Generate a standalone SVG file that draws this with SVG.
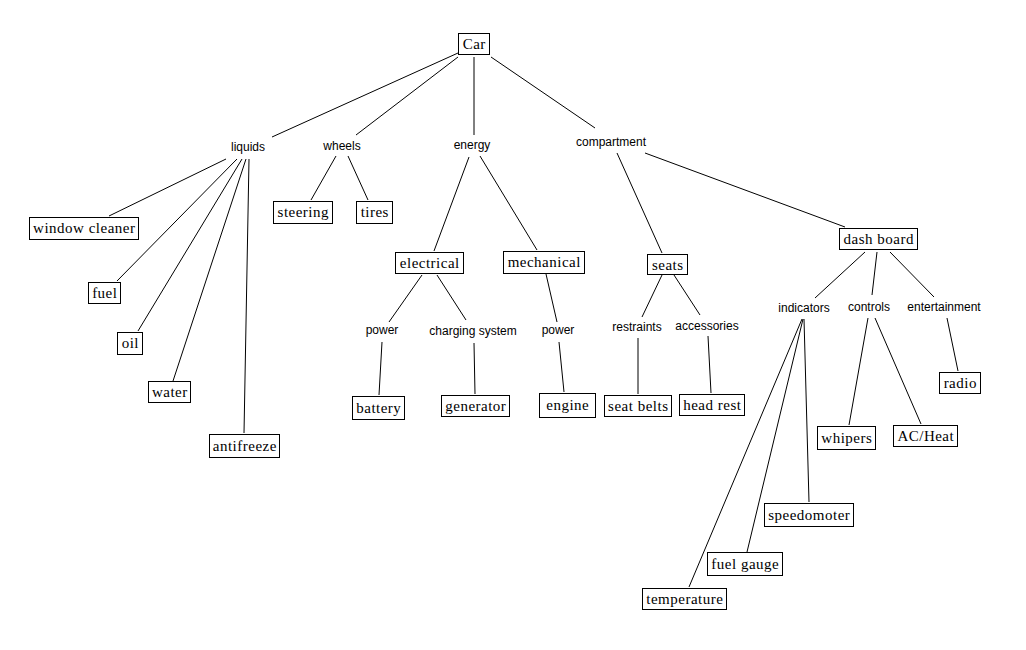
<svg xmlns="http://www.w3.org/2000/svg" width="1026" height="650" viewBox="0 0 1026 650">
<style>
.box{fill:#fff;stroke:#000;stroke-width:1}
.bt{font-family:"Liberation Serif","Times New Roman",serif;font-size:15px;fill:#000;text-anchor:middle;letter-spacing:0.5px}
.lt{font-family:"Liberation Sans",Arial,sans-serif;font-size:12px;fill:#000;text-anchor:middle}
.edges line{stroke:#000;stroke-width:1}
</style>
<rect width="1026" height="650" fill="#fff"/>
<g class="edges" id="connectors">
<line x1="458" y1="53" x2="272" y2="137"/>
<line x1="458" y1="57" x2="356" y2="135"/>
<line x1="474" y1="57" x2="474" y2="135"/>
<line x1="491" y1="57" x2="595" y2="128"/>
<line x1="226" y1="159" x2="109" y2="216"/>
<line x1="237" y1="159" x2="117" y2="281"/>
<line x1="242" y1="159" x2="138" y2="331"/>
<line x1="246" y1="159" x2="173" y2="381"/>
<line x1="249" y1="159" x2="244" y2="433"/>
<line x1="336" y1="156" x2="311" y2="200"/>
<line x1="348" y1="156" x2="368" y2="200"/>
<line x1="469" y1="157" x2="434" y2="251"/>
<line x1="480" y1="156" x2="537" y2="250"/>
<line x1="422" y1="275" x2="389" y2="322"/>
<line x1="437" y1="275" x2="466" y2="320"/>
<line x1="546" y1="274" x2="557" y2="322"/>
<line x1="382" y1="342" x2="379" y2="395"/>
<line x1="474" y1="343" x2="475" y2="394"/>
<line x1="559" y1="342" x2="564" y2="392"/>
<line x1="617" y1="153" x2="662" y2="253"/>
<line x1="645" y1="153" x2="845" y2="227"/>
<line x1="662" y1="275" x2="642" y2="317"/>
<line x1="674" y1="275" x2="700" y2="315"/>
<line x1="638" y1="338" x2="638" y2="394"/>
<line x1="708" y1="336" x2="711" y2="393"/>
<line x1="865" y1="252" x2="815" y2="298"/>
<line x1="877" y1="252" x2="872" y2="295"/>
<line x1="890" y1="252" x2="934" y2="297"/>
<line x1="802" y1="319" x2="689" y2="587"/>
<line x1="803" y1="319" x2="747" y2="552"/>
<line x1="804" y1="319" x2="809" y2="502"/>
<line x1="868" y1="318" x2="849" y2="425"/>
<line x1="875" y1="318" x2="921" y2="424"/>
<line x1="947" y1="318" x2="958" y2="371"/>
</g>
<g id="car"><rect class="box" x="458.5" y="33.5" width="31" height="21"/><text class="bt" x="474.3" y="49">Car</text></g>
<g id="liquids"><text class="lt" x="248" y="151">liquids</text></g>
<g id="wheels"><text class="lt" x="342" y="150">wheels</text></g>
<g id="energy"><text class="lt" x="472" y="149">energy</text></g>
<g id="compartment"><text class="lt" x="611" y="146">compartment</text></g>
<g id="window-cleaner"><rect class="box" x="29.5" y="217.5" width="109" height="22"/><text class="bt" x="84.3" y="233">window cleaner</text></g>
<g id="fuel"><rect class="box" x="88.5" y="282.5" width="32" height="21"/><text class="bt" x="104.8" y="298">fuel</text></g>
<g id="oil"><rect class="box" x="117.5" y="332.5" width="25" height="22"/><text class="bt" x="130.3" y="348">oil</text></g>
<g id="water"><rect class="box" x="148.5" y="381.5" width="42" height="21"/><text class="bt" x="169.8" y="397">water</text></g>
<g id="antifreeze"><rect class="box" x="209.5" y="434.5" width="70" height="23"/><text class="bt" x="244.8" y="451">antifreeze</text></g>
<g id="steering"><rect class="box" x="273.5" y="201.5" width="59" height="22"/><text class="bt" x="303.3" y="217">steering</text></g>
<g id="tires"><rect class="box" x="356.5" y="201.5" width="36" height="22"/><text class="bt" x="374.8" y="217">tires</text></g>
<g id="electrical"><rect class="box" x="395.5" y="252.5" width="68" height="21"/><text class="bt" x="429.8" y="268">electrical</text></g>
<g id="mechanical"><rect class="box" x="503.5" y="251.5" width="81" height="22"/><text class="bt" x="544.3" y="267">mechanical</text></g>
<g id="power-1"><text class="lt" x="382" y="334">power</text></g>
<g id="charging-system"><text class="lt" x="473" y="335">charging system</text></g>
<g id="power-2"><text class="lt" x="558" y="334">power</text></g>
<g id="battery"><rect class="box" x="352.5" y="396.5" width="52" height="23"/><text class="bt" x="378.8" y="413">battery</text></g>
<g id="generator"><rect class="box" x="441.5" y="395.5" width="68" height="21"/><text class="bt" x="475.8" y="411">generator</text></g>
<g id="engine"><rect class="box" x="539.5" y="393.5" width="56" height="24"/><text class="bt" x="567.8" y="410">engine</text></g>
<g id="seats"><rect class="box" x="647.5" y="254.5" width="40" height="20"/><text class="bt" x="667.8" y="270">seats</text></g>
<g id="dash-board"><rect class="box" x="839.5" y="228.5" width="78" height="21"/><text class="bt" x="878.8" y="244">dash board</text></g>
<g id="restraints"><text class="lt" x="637" y="331">restraints</text></g>
<g id="accessories"><text class="lt" x="707" y="330">accessories</text></g>
<g id="indicators"><text class="lt" x="804" y="312">indicators</text></g>
<g id="controls"><text class="lt" x="869" y="311">controls</text></g>
<g id="entertainment"><text class="lt" x="944" y="311">entertainment</text></g>
<g id="seat-belts"><rect class="box" x="604.5" y="395.5" width="67" height="21"/><text class="bt" x="638.3" y="411">seat belts</text></g>
<g id="head-rest"><rect class="box" x="679.5" y="394.5" width="65" height="21"/><text class="bt" x="712.3" y="410">head rest</text></g>
<g id="radio"><rect class="box" x="939.5" y="372.5" width="41" height="21"/><text class="bt" x="960.3" y="388">radio</text></g>
<g id="whipers"><rect class="box" x="817.5" y="426.5" width="58" height="23"/><text class="bt" x="846.8" y="443">whipers</text></g>
<g id="ac-heat"><rect class="box" x="893.5" y="425.5" width="64" height="21"/><text class="bt" x="925.8" y="441">AC/Heat</text></g>
<g id="speedomoter"><rect class="box" x="764.5" y="503.5" width="89" height="23"/><text class="bt" x="809.3" y="520">speedomoter</text></g>
<g id="fuel-gauge"><rect class="box" x="707.5" y="552.5" width="75" height="23"/><text class="bt" x="745.3" y="569">fuel gauge</text></g>
<g id="temperature"><rect class="box" x="642.5" y="588.5" width="84" height="21"/><text class="bt" x="684.8" y="604">temperature</text></g>
</svg>
